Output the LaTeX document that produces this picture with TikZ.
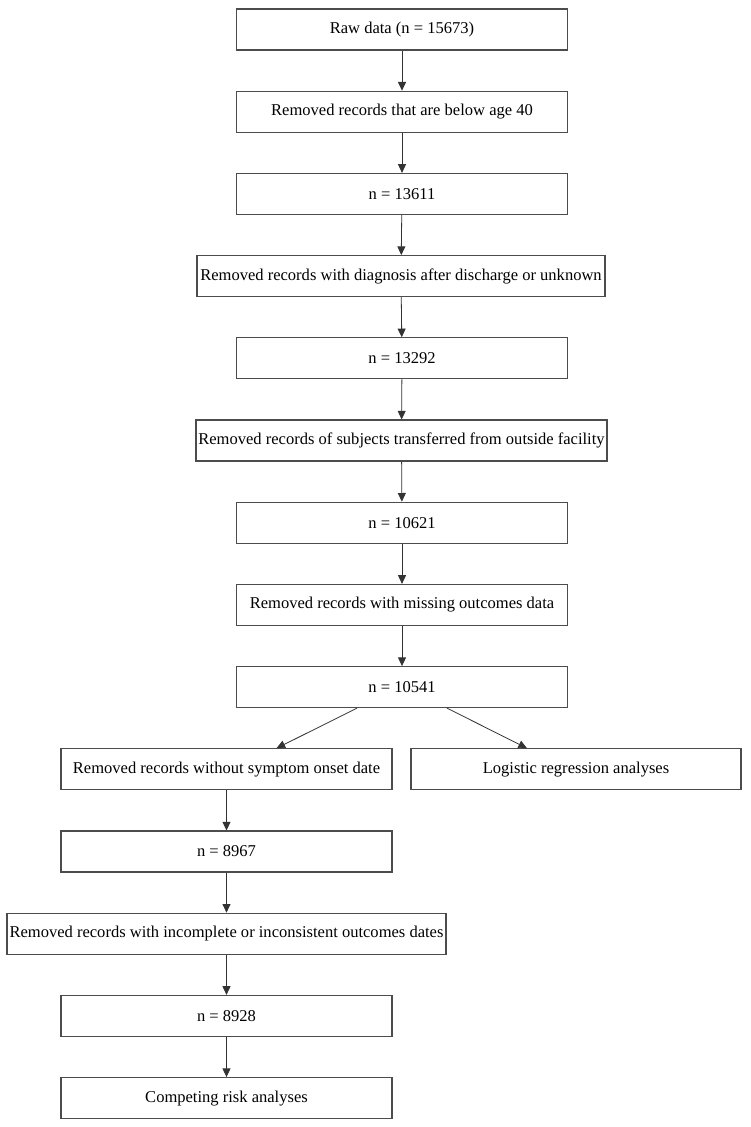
\documentclass[tikz,border=0pt]{standalone}
\usepackage{fontspec}
\setmainfont{Liberation Serif}
\usetikzlibrary{arrows.meta}
\tikzset{
  box/.style={draw=black!70, line width=0.8pt, minimum height=30.75pt, inner sep=0pt,
    font=\fontsize{12.4}{14}\selectfont},
  flow/.style={-{Triangle[length=6.5pt,width=6pt]}, draw=black!80, line width=0.6pt}
}
\begin{document}
\begin{tikzpicture}[x=0.75pt,y=-0.75pt]
  \useasboundingbox (0,0) rectangle (750,1127);

  \node[box,minimum width=248.25pt] (raw) at (402,29.5) {Raw data (n = 15673)};
  \node[box,minimum width=248.25pt] (age) at (402,111.7) {Removed records that are below age 40};
  \node[box,minimum width=248.25pt] (n1) at (402,193.9) {n = 13611};
  \node[box,minimum width=306pt] (diag) at (401,276.1) {Removed records with diagnosis after discharge or unknown};
  \node[box,minimum width=248.25pt] (n2) at (402,358.3) {n = 13292};
  \node[box,minimum width=308.25pt] (trans) at (401.5,440.5) {Removed records of subjects transferred from outside facility};
  \node[box,minimum width=248.25pt] (n3) at (402,522.7) {n = 10621};
  \node[box,minimum width=248.25pt] (miss) at (402,604.9) {Removed records with missing outcomes data};
  \node[box,minimum width=248.25pt] (n4) at (402,687.1) {n = 10541};

  \node[box,minimum width=248.25pt] (onset) at (226.5,769.3) {Removed records without symptom onset date};
  \node[box,minimum width=247.5pt] (logit) at (576,769.3) {Logistic regression analyses};
  \node[box,minimum width=248.25pt] (n5) at (226.5,851.5) {n = 8967};
  \node[box,minimum width=329.25pt] (dates) at (226.5,933.7) {Removed records with incomplete or inconsistent outcomes dates};
  \node[box,minimum width=248.25pt] (n6) at (226.5,1015.9) {n = 8928};
  \node[box,minimum width=248.25pt] (risk) at (226.5,1098.1) {Competing risk analyses};

  \draw[flow] (raw) -- (age);
  \draw[flow] (age) -- (n1);
  \draw[flow] (n1) -- (diag);
  \draw[flow] (diag) -- (n2);
  \draw[flow] (n2) -- (trans);
  \draw[flow] (trans) -- (n3);
  \draw[flow] (n3) -- (miss);
  \draw[flow] (miss) -- (n4);
  \draw[flow] ([xshift=-33.75pt]n4.south) -- ([xshift=37.5pt]onset.north);
  \draw[flow] ([xshift=33.75pt]n4.south) -- ([xshift=-36.75pt]logit.north);
  \draw[flow] (onset) -- (n5);
  \draw[flow] (n5) -- (dates);
  \draw[flow] (dates) -- (n6);
  \draw[flow] (n6) -- (risk);
\end{tikzpicture}
\end{document}
